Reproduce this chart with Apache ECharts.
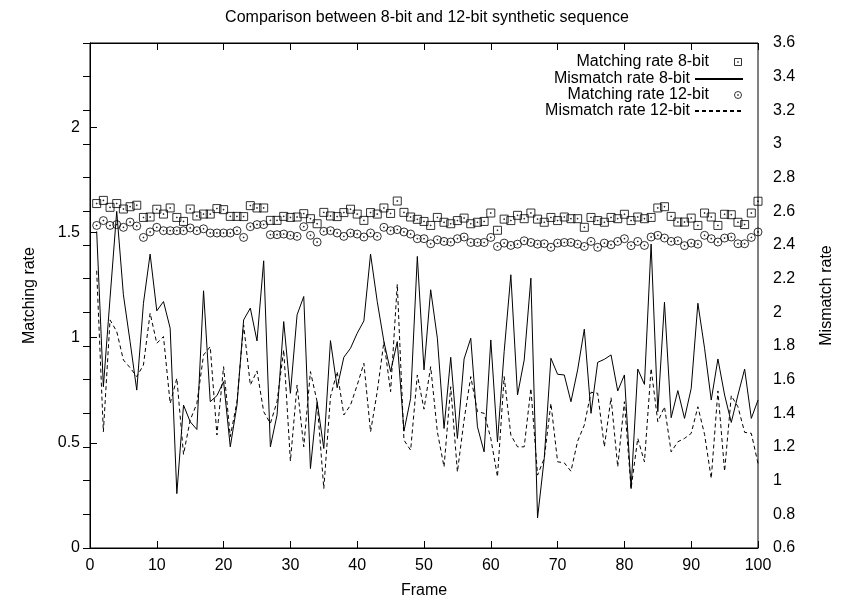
<!DOCTYPE html>
<html>
<head>
<meta charset="utf-8">
<title>Comparison between 8-bit and 12-bit synthetic sequence</title>
<script src="https://cdn.jsdelivr.net/npm/echarts@6/dist/echarts.min.js"></script>
<style>
  html, body { margin: 0; padding: 0; background: #fff; }
  #chart { width: 843px; height: 605px; }
</style>
</head>
<body>
<div id="chart"></div>
<script>
// frame numbers (x axis)
const frames = Array.from({ length: 100 }, (_, i) => i + 1);

// left axis: matching rate
const matching8 = [
  1.637, 1.652, 1.619, 1.637, 1.611, 1.622, 1.629, 1.571, 1.573, 1.610,
  1.587, 1.616, 1.571, 1.552, 1.611, 1.578, 1.587, 1.587, 1.613, 1.608,
  1.576, 1.576, 1.575, 1.627, 1.616, 1.616, 1.557, 1.557, 1.576, 1.571,
  1.573, 1.589, 1.565, 1.541, 1.595, 1.578, 1.575, 1.594, 1.610, 1.587,
  1.557, 1.594, 1.587, 1.616, 1.590, 1.649, 1.595, 1.573, 1.562, 1.552,
  1.533, 1.571, 1.548, 1.541, 1.556, 1.568, 1.541, 1.548, 1.552, 1.592,
  1.510, 1.563, 1.556, 1.581, 1.565, 1.592, 1.563, 1.548, 1.571, 1.556,
  1.573, 1.565, 1.565, 1.524, 1.571, 1.556, 1.548, 1.571, 1.565, 1.586,
  1.556, 1.573, 1.565, 1.571, 1.616, 1.622, 1.576, 1.549, 1.549, 1.568,
  1.533, 1.592, 1.573, 1.533, 1.586, 1.584, 1.548, 1.537, 1.592, 1.648
];
const matching12 = [
  1.533, 1.556, 1.533, 1.537, 1.524, 1.549, 1.530, 1.476, 1.502, 1.524,
  1.508, 1.508, 1.508, 1.508, 1.521, 1.508, 1.517, 1.497, 1.497, 1.497,
  1.497, 1.508, 1.476, 1.527, 1.537, 1.537, 1.489, 1.489, 1.492, 1.486,
  1.481, 1.527, 1.486, 1.454, 1.505, 1.508, 1.497, 1.481, 1.497, 1.492,
  1.478, 1.497, 1.481, 1.524, 1.508, 1.513, 1.502, 1.492, 1.470, 1.470,
  1.446, 1.465, 1.457, 1.454, 1.470, 1.478, 1.452, 1.452, 1.452, 1.476,
  1.433, 1.449, 1.438, 1.444, 1.460, 1.452, 1.444, 1.446, 1.429, 1.449,
  1.452, 1.452, 1.444, 1.433, 1.457, 1.429, 1.449, 1.441, 1.457, 1.470,
  1.437, 1.457, 1.438, 1.478, 1.486, 1.473, 1.457, 1.460, 1.437, 1.449,
  1.444, 1.486, 1.470, 1.454, 1.473, 1.478, 1.446, 1.446, 1.476, 1.502
];

// right axis: mismatch rate
const mismatch8 = [
  2.481, 1.558, 2.084, 2.600, 2.104, 1.826, 1.538, 2.054, 2.346, 2.009,
  2.064, 1.906, 0.923, 1.449, 1.350, 1.304, 2.128, 1.469, 1.505, 1.588,
  1.201, 1.449, 1.955, 2.025, 1.830, 2.306, 1.201, 1.390, 1.945, 1.519,
  1.985, 2.094, 1.072, 1.469, 1.191, 1.832, 1.552, 1.733, 1.787, 1.876,
  1.949, 2.346, 2.064, 1.826, 1.648, 1.826, 1.294, 1.489, 2.332, 1.658,
  2.134, 1.846, 1.310, 1.733, 1.251, 1.723, 1.846, 1.320, 1.171, 1.836,
  1.231, 1.767, 2.223, 1.509, 1.717, 2.203, 0.779, 1.132, 1.727, 1.632,
  1.628, 1.469, 1.658, 1.900, 1.400, 1.703, 1.721, 1.747, 1.533, 1.628,
  0.953, 1.663, 1.572, 2.406, 1.410, 2.060, 1.374, 1.535, 1.370, 1.548,
  2.054, 1.787, 1.479, 1.723, 1.509, 1.346, 1.509, 1.663, 1.370, 1.479
];
const mismatch12 = [
  2.247, 1.290, 1.955, 1.886, 1.717, 1.671, 1.618, 1.687, 1.995, 1.816,
  1.856, 1.459, 1.608, 1.156, 1.360, 1.459, 1.747, 1.796, 1.271, 1.677,
  1.261, 1.469, 1.925, 1.568, 1.652, 1.410, 1.340, 1.469, 1.777, 1.116,
  1.568, 1.201, 1.648, 1.469, 0.953, 1.499, 1.648, 1.390, 1.449, 1.568,
  1.697, 1.290, 1.529, 1.826, 1.529, 2.167, 1.241, 1.181, 1.628, 1.425,
  1.677, 1.290, 1.082, 1.558, 1.052, 1.360, 1.618, 1.410, 1.400, 1.251,
  1.023, 1.618, 1.271, 1.201, 1.201, 1.548, 1.033, 1.132, 1.459, 1.112,
  1.106, 1.056, 1.235, 1.330, 1.525, 1.519, 1.201, 1.493, 1.082, 1.469,
  0.953, 1.251, 1.112, 1.667, 1.350, 1.439, 1.171, 1.231, 1.251, 1.281,
  1.439, 1.275, 1.013, 1.533, 1.056, 1.505, 1.439, 1.287, 1.281, 1.102
];

const seriesNames = ['Matching rate 8-bit', 'Mismatch rate 8-bit', 'Matching rate 12-bit', 'Mismatch rate 12-bit'];

// gnuplot-like point shapes: box with dot, circle with dot
const boxDot = 'path://M0 0H8V8H0ZM3.6 3.6H4.4V4.4H3.6Z';
const circleDot = 'path://M0 4A4 4 0 1 1 8 4A4 4 0 1 1 0 4ZM3.6 3.6H4.4V4.4H3.6Z';

const font = "'Liberation Sans', Arial, Helvetica, sans-serif";
const pairs = vals => frames.map((f, i) => [f, vals[i]]);

const chart = echarts.init(document.getElementById('chart'), null, { renderer: 'canvas' });

// one legend per row so the samples line up on the right like gnuplot's key
const legendRows = [60, 77, 93, 109];
const legends = seriesNames.map((name, i) => {
  const isPoint = i % 2 === 0;
  return {
    data: [isPoint ? { name, icon: i === 0 ? boxDot : circleDot } : name],
    orient: 'vertical',
    align: 'right',
    right: 99,
    top: legendRows[i] - 6,
    padding: 0,
    itemWidth: 48,
    itemHeight: isPoint ? 7 : 10,
    selectedMode: false,
    textStyle: { color: '#000', fontSize: 16, fontFamily: font },
    // line samples: hide the marker gnuplot does not draw
    itemStyle: isPoint
      ? { color: 'none', borderColor: '#000', borderWidth: 1 }
      : { opacity: 0 }
  };
});

const option = {
  animation: false,
  backgroundColor: '#fff',
  textStyle: { fontFamily: font },
  title: {
    text: 'Comparison between 8-bit and 12-bit synthetic sequence',
    left: 427,
    top: 10,
    padding: 0,
    textAlign: 'center',
    textStyle: { color: '#000', fontSize: 16, fontWeight: 'normal', fontFamily: font }
  },
  legend: legends,
  grid: {
    left: 90, right: 79, top: 43, bottom: 57,
    show: true, borderColor: '#000', borderWidth: 1, backgroundColor: 'transparent'
  },
  xAxis: [
    {
      type: 'value', min: 0, max: 100, interval: 10,
      name: 'Frame', nameLocation: 'middle', nameGap: 35,
      nameTextStyle: { color: '#000', fontSize: 16, fontFamily: font },
      axisLine: { show: true, lineStyle: { color: '#000', width: 1 } },
      axisTick: { inside: true, length: 7, lineStyle: { color: '#000' } },
      axisLabel: { color: '#000', fontSize: 16, margin: 10, fontFamily: font },
      splitLine: { show: false }
    },
    {
      type: 'value', position: 'top', min: 0, max: 100, interval: 10,
      axisLine: { show: true, lineStyle: { color: '#000', width: 1 } },
      axisTick: { inside: true, length: 7, lineStyle: { color: '#000' } },
      axisLabel: { show: false },
      splitLine: { show: false }
    }
  ],
  yAxis: [
    {
      type: 'value', min: 0, max: 2.4, interval: 0.5,
      name: 'Matching rate', nameLocation: 'middle', nameGap: 52, nameRotate: 90,
      nameTextStyle: { color: '#000', fontSize: 16, fontFamily: font },
      axisLine: { show: true, lineStyle: { color: '#000', width: 1 } },
      axisTick: { inside: true, length: 7, lineStyle: { color: '#000' } },
      axisLabel: { color: '#000', fontSize: 16, margin: 10, showMaxLabel: false, fontFamily: font },
      splitLine: { show: false }
    },
    {
      type: 'value', position: 'right', min: 0.6, max: 3.6, interval: 0.2,
      name: 'Mismatch rate', nameLocation: 'middle', nameGap: 61, nameRotate: 90,
      nameTextStyle: { color: '#000', fontSize: 16, fontFamily: font },
      axisLine: { show: true, lineStyle: { color: '#000', width: 1 } },
      axisTick: { inside: true, length: 7, lineStyle: { color: '#000' } },
      axisLabel: {
        color: '#000', fontSize: 16, margin: 15, fontFamily: font,
        formatter: v => String(Math.round(v * 10) / 10)
      },
      splitLine: { show: false }
    }
  ],
  series: [
    {
      name: seriesNames[0], type: 'scatter', yAxisIndex: 0,
      symbol: boxDot, symbolSize: 8,
      itemStyle: { color: 'none', borderColor: '#000', borderWidth: 1 },
      emphasis: { disabled: true },
      data: pairs(matching8)
    },
    {
      name: seriesNames[1], type: 'line', yAxisIndex: 1,
      symbol: 'none', color: '#000',
      lineStyle: { color: '#000', width: 1 },
      emphasis: { disabled: true },
      data: pairs(mismatch8)
    },
    {
      name: seriesNames[2], type: 'scatter', yAxisIndex: 0,
      symbol: circleDot, symbolSize: 8,
      itemStyle: { color: 'none', borderColor: '#000', borderWidth: 1 },
      emphasis: { disabled: true },
      data: pairs(matching12)
    },
    {
      name: seriesNames[3], type: 'line', yAxisIndex: 1,
      symbol: 'none', color: '#000',
      lineStyle: { color: '#000', width: 1, type: [4, 3] },
      emphasis: { disabled: true },
      data: pairs(mismatch12)
    }
  ]
};

chart.setOption(option);
</script>
</body>
</html>
